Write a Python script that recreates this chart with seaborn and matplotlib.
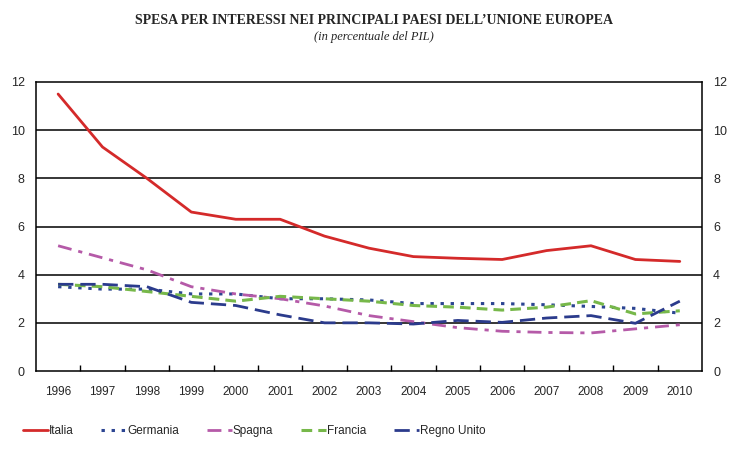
import matplotlib
matplotlib.use("Agg")
import matplotlib.pyplot as plt
import seaborn as sns
from matplotlib.ticker import FixedLocator

anni = ["1996", "1997", "1998", "1999", "2000", "2001", "2002", "2003",
        "2004", "2005", "2006", "2007", "2008", "2009", "2010"]
italia = [11.5, 9.3, 8.0, 6.6, 6.3, 6.3, 5.6, 5.1, 4.75, 4.68, 4.63, 5.0, 5.2, 4.63, 4.55]
germania = [3.5, 3.4, 3.4, 3.2, 3.2, 3.0, 3.0, 2.95, 2.8, 2.8, 2.8, 2.75, 2.68, 2.6, 2.4]
spagna = [5.2, 4.7, 4.2, 3.5, 3.2, 3.0, 2.7, 2.3, 2.05, 1.8, 1.65, 1.6, 1.58, 1.75, 1.92]
francia = [3.6, 3.5, 3.3, 3.1, 2.9, 3.1, 3.0, 2.9, 2.72, 2.65, 2.53, 2.65, 2.92, 2.37, 2.5]
regno_unito = [3.6, 3.6, 3.5, 2.85, 2.72, 2.33, 2.0, 2.0, 1.95, 2.1, 2.02, 2.2, 2.3, 1.98, 2.9]

serie = [
    ("Italia", italia, "#d42a2a", "-", 2.0),
    ("Germania", germania, "#2c4592", (0, (1.1, 2.2)), 2.2),
    ("Spagna", spagna, "#b55aa8", (0, (5, 2.5, 1.5, 2.5)), 2.0),
    ("Francia", francia, "#77b84a", (0, (3.5, 2)), 2.2),
    ("Regno Unito", regno_unito, "#2b3b8c", (0, (5.5, 2.5)), 2.0),
]

sns.set_style("white")
plt.rcParams["font.family"] = ["Liberation Sans", "DejaVu Sans"]

fig = plt.figure(figsize=(7.48, 4.53), dpi=100)
ax = fig.add_axes([0.048, 0.181, 0.8905, 0.638])

x = list(range(len(anni)))
for nome, valori, colore, stile, lw in serie:
    sns.lineplot(x=x, y=valori, ax=ax, color=colore, linestyle=stile,
                 linewidth=lw, label=nome)

ax.set_xlim(-0.5, len(anni) - 0.5)
ax.set_ylim(0, 12)
ax.set_xticks(x)
ax.set_xticklabels(anni, fontsize=8.5)
ax.xaxis.set_minor_locator(FixedLocator([i + 0.5 for i in range(len(anni) - 1)]))
ax.tick_params(axis="x", which="major", length=0, pad=11)
ax.tick_params(axis="x", which="minor", bottom=True, length=4, width=1,
               direction="in", color="black")
ax.set_yticks(range(0, 13, 2))
ax.tick_params(axis="y", length=0, labelsize=9, pad=8, labelright=True)
for g in [2, 4, 6, 8, 10]:
    ax.axhline(g, color="black", lw=1.1, zorder=0)
for s in ax.spines.values():
    s.set_color("black")
    s.set_linewidth(1.1)

ax.get_legend().remove()
h, l = ax.get_legend_handles_labels()
fig.legend(h, l, loc="center", bbox_to_anchor=(0.34, 0.048), ncol=5, frameon=False,
           fontsize=8.5, handlelength=2.1, handletextpad=0.1, columnspacing=2.35)

fig.text(0.5, 0.955, "SPESA PER INTERESSI NEI PRINCIPALI PAESI DELL\u2019UNIONE EUROPEA",
         ha="center", va="center", fontsize=10, fontweight="bold", family="Liberation Serif")
fig.text(0.5, 0.918, "(in percentuale del PIL)", ha="center", va="center",
         fontsize=9, style="italic", family="Liberation Serif")

fig.savefig("out.png", dpi=100)
